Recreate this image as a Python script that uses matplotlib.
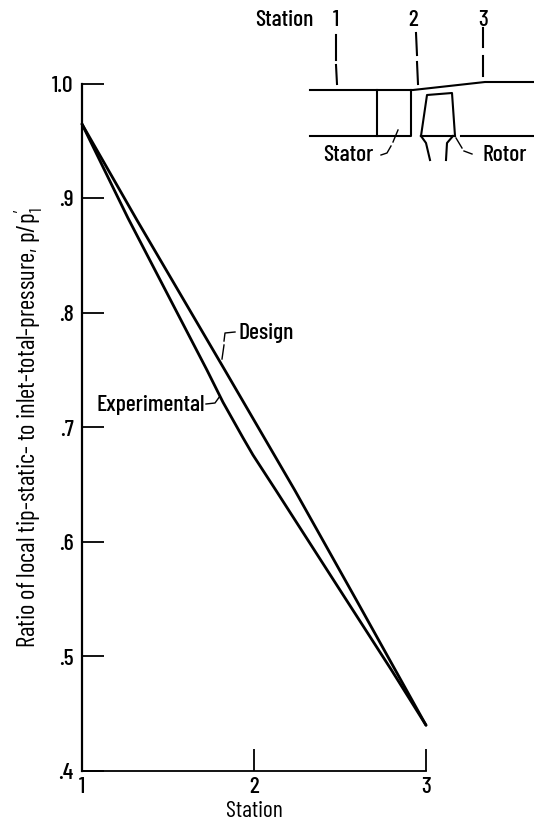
import matplotlib
matplotlib.use("Agg")
import matplotlib.pyplot as plt

W, H = 534, 822
FAMILY = ["Barlow Condensed", "Liberation Sans", "DejaVu Sans"]
plt.rcParams["font.family"] = FAMILY
plt.rcParams["font.weight"] = "medium"
plt.rcParams["mathtext.fontset"] = "custom"
plt.rcParams["mathtext.rm"] = "Barlow Condensed:medium"
plt.rcParams["mathtext.default"] = "regular"

# Data
stations = [1, 2, 3]
design_x = [1.0, 1.32, 1.831, 2.238, 2.6, 3.0]
design_y = [0.965, 0.881, 0.750, 0.645, 0.548, 0.440]
exper_x = [1.0, 1.267, 1.727, 1.82, 1.936, 1.994, 2.128, 2.5, 2.8, 3.0]
exper_y = [0.965, 0.883, 0.750, 0.722, 0.691, 0.676, 0.645, 0.558, 0.488, 0.440]
y_ticks = [0.4, 0.5, 0.6, 0.7, 0.8, 0.9, 1.0]
y_labels = [".4", ".5", ".6", ".7", ".8", ".9", "1.0"]

# Schematic outline (reference pixels)
schematic_solid = [
    [(310, 90), (413, 90), (485, 82), (534, 82)],
    [(310, 136), (411, 136), (411, 90)],
    [(377, 90), (377, 136)],
    [(421, 136), (427, 95), (452, 93), (455, 136)],
    [(421, 136), (455, 136)],
    [(461, 136), (534, 136)],
    [(421, 136), (426, 143), (430, 160)],
    [(453, 136), (447, 143), (446, 160)],
]
station_dashes = [
    [(336, 35), (336, 60)], [(336, 65), (337, 84)],
    [(416, 33), (417, 55)], [(417, 62), (418, 84)],
    [(483, 28), (483, 47)], [(483, 56), (483, 76)],
]
leaders = [
    [(398, 130), (393, 142)], [(391, 146), (387, 153), (381, 155)],
    [(456, 138), (462, 148)], [(464, 151), (472, 154)],
    [(222, 359), (224, 345)], [(224, 341), (225, 333), (235, 332)],
    [(206, 404), (215, 403), (220, 396)],
]
labels = [
    ("Station", 284, 20, "center"), ("1", 336, 20, "center"),
    ("2", 413, 20, "center"), ("3", 483, 20, "center"),
    ("Stator", 323, 155, "left"), ("Rotor", 482, 155, "left"),
    ("Design", 239, 333, "left"), ("Experimental", 97, 405, "left"),
]

fig = plt.figure(figsize=(W / 100, H / 100), dpi=100)
L, R, T, B = 82, 426, 84, 771
ax = fig.add_axes([L / W, 1 - B / H, (R - L) / W, (B - T) / H])
ax.set_xlim(1, 3)
ax.set_ylim(0.4, 1.0)
for s in ("top", "right"):
    ax.spines[s].set_visible(False)
ax.spines["left"].set_linewidth(1.6)
ax.spines["bottom"].set_linewidth(1.3)

ax.plot(design_x, design_y, color="black", lw=2.0, clip_on=False, solid_capstyle="round")
ax.plot(exper_x, exper_y, color="black", lw=2.0, clip_on=False, solid_capstyle="round")

ax.set_xticks(stations)
ax.set_xticklabels([str(s) for s in stations], fontsize=17)
ax.set_yticks(y_ticks)
ax.set_yticklabels(y_labels, fontsize=17)
ax.tick_params(axis="both", direction="in", length=16, width=1.3, color="black")
ax.tick_params(axis="x", pad=4)
ax.tick_params(axis="y", pad=6)
ax.set_xlabel("Station", fontsize=17, labelpad=3)
ax.set_ylabel(r"Ratio of local tip-static- to inlet-total-pressure, p/p$_1^{\prime}$",
              fontsize=18, labelpad=5)

ov = fig.add_axes([0, 0, 1, 1], facecolor="none")
ov.set_xlim(0, W)
ov.set_ylim(H, 0)
ov.axis("off")
for path in schematic_solid:
    ov.plot(*zip(*path), color="black", lw=1.5)
for path in station_dashes:
    ov.plot(*zip(*path), color="black", lw=1.5)
for path in leaders:
    ov.plot(*zip(*path), color="black", lw=1.0)
for txt, x, y, ha in labels:
    ov.text(x, y, txt, ha=ha, va="center", fontsize=17, color="black")

fig.savefig("out.png", dpi=100)
